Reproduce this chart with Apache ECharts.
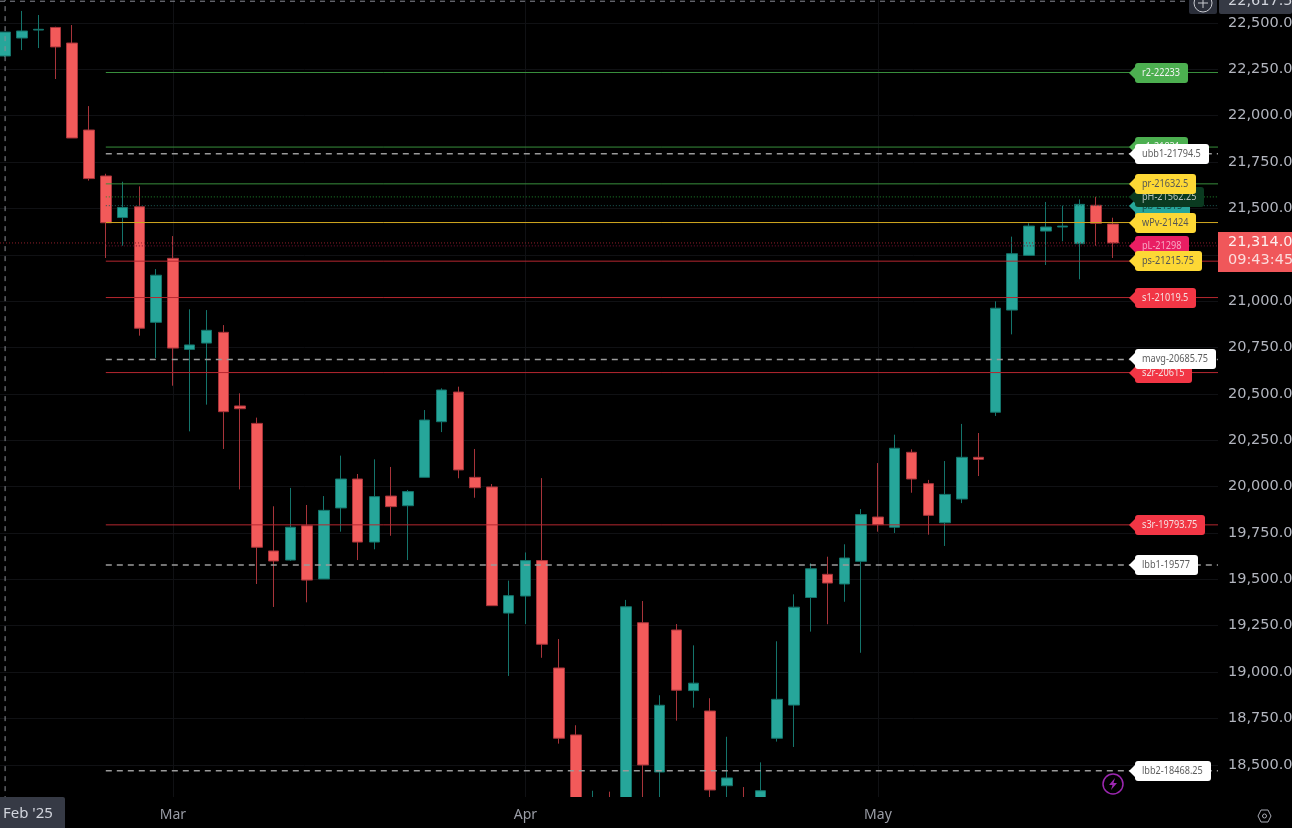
<!DOCTYPE html>
<html>
<head>
<meta charset="utf-8">
<title>Candles</title>
<script src="https://cdn.jsdelivr.net/npm/echarts@6/dist/echarts.min.js"></script>
<style>
    html, body { margin: 0; padding: 0; background: #000; overflow: hidden; }
    #chart { width: 1292px; height: 828px; }
</style>
</head>
<body>
<div id="chart"></div>
<script>
// daily candles, index 0 is the leftmost one. Below 18,326 is off the picture, those are guesses
var opens = [22322, 22419, 22462, 22476, 22392, 21923, 21675, 21451, 21509, 20886,
    21231, 20740, 20774, 20832, 20435, 20341, 19653, 19604, 19789, 19502,
    19885, 20041, 19701, 19949, 19897, 20050, 20350, 20510, 20050, 19998,
    19318, 19410, 19601, 19022, 18661, 18270, 18310, 18290, 19266, 18461,
    19227, 18900, 18790, 18387, 18320, 18300, 18643, 18822, 19402, 19527,
    19475, 19597, 19836, 19781, 20185, 20016, 19805, 19933, 20158, 20401,
    20952, 21247, 21378, 21400, 21310, 21517, 21416];
var closes = [22451, 22457, 22466, 22371, 21880, 21661, 21423, 21505, 20854, 21140,
    20747, 20764, 20843, 20404, 20420, 19673, 19599, 19781, 19496, 19872,
    20041, 19701, 19946, 19892, 19973, 20359, 20521, 20090, 19994, 19358,
    19412, 19601, 19150, 18643, 18270, 18300, 18280, 19352, 18499, 18821,
    18902, 18940, 18364, 18429, 18285, 18360, 18853, 19350, 19557, 19480,
    19615, 19849, 19795, 20207, 20041, 19845, 19958, 20158, 20147, 20962,
    21256, 21405, 21400, 21405, 21522, 21420, 21314];
var lows = [22317, 22354, 22365, 22198, 21880, 21650, 21233, 21299, 20814, 20694,
    20544, 20298, 20442, 20203, 19985, 19475, 19351, 19599, 19376, 19502,
    19757, 19604, 19662, 19735, 19604, 20050, 20294, 20045, 19940, 19358,
    18979, 19259, 19077, 18614, 18260, 18255, 18260, 18270, 18290, 18290,
    18738, 18808, 18310, 18300, 18265, 18280, 18625, 18596, 19218, 19258,
    19379, 19104, 19757, 19750, 19967, 19741, 19680, 19911, 20057, 20381,
    20821, 21244, 21195, 21323, 21118, 21299, 21233];
var highs = [22451, 22565, 22543, 22480, 22489, 22052, 21687, 21644, 21619, 21173,
    21351, 20956, 20952, 20871, 20503, 20372, 19894, 19993, 19901, 19949,
    20167, 20068, 20147, 20106, 19982, 20413, 20530, 20539, 20203, 20014,
    19493, 19645, 20046, 19178, 18713, 18360, 18355, 19389, 19383, 18875,
    19259, 19144, 18859, 18651, 18380, 18513, 19166, 19419, 19586, 19622,
    19689, 19879, 20127, 20280, 20201, 20036, 20138, 20338, 20289, 20999,
    21348, 21420, 21535, 21515, 21549, 21563, 21450];

var monthIndex = [10, 31, 52];
var monthNames = ['Mar', 'Apr', 'May'];

// level tags, drawn in this order so later ones cover earlier ones
var levelNames = ['r2-22233', 'r1-21831', 'ubb1-21794.5', 'pb-21515', 'pH-21562.25', 'pr-21632.5', 'wPv-21424',
    'pL-21298', 'ps-21215.75', 's1-21019.5', 's2r-20615', 'mavg-20685.75', 's3r-19793.75', 'lbb1-19577', 'lbb2-18468.25'];
var levelValues = [22233, 21831, 21794.5, 21515, 21562.25, 21632.5, 21424,
    21298, 21215.75, 21019.5, 20615, 20685.75, 19793.75, 19577, 18468.25];
var levelKinds = ['green', 'green', 'band', 'teal', 'high', 'green2', 'yellow',
    'pink', 'yellow2', 'red', 'red', 'band', 'red', 'band', 'band'];

var lastPrice = 21314;
var countdown = '09:43:45';
var crosshairPrice = 22617.5;
var crosshairLabel = '22,617.5';
var crosshairMonth = "Feb '25";

var FONT = '"Noto Sans", sans-serif';
var TAG_FONT = '10.5px "Noto Sans", sans-serif';
var TAG_SQUEEZE = 0.87; // tag text in the picture is a condensed face
var PRICE_FONT = '"DejaVu Sans", sans-serif';
var TEAL = '#26a69a', TEAL_DARK = '#14746b', RED = '#f25a5a', RED_DARK = '#a8343a';
var GRID = '#101114';

var kindStyles = {
    green: { line: '#388e3c', type: 'solid', tag: '#4caf50', text: '#f2f2f2' },
    green2: { line: '#388e3c', type: 'solid', tag: '#fdd835', text: '#555' },
    band: { line: '#9a9a9a', type: [6, 5], tag: '#ffffff', text: '#5d5d5d' },
    teal: { line: '#1c5f58', type: [1, 2], tag: '#26a69a', text: '#134a44' },
    high: { line: '#1f8a2c', type: [1, 2], tag: '#0a3a20', text: '#b8c2bc' },
    yellow: { line: '#d1a81f', type: 'solid', tag: '#fdd835', text: '#555' },
    yellow2: { line: '#b5272f', type: 'solid', tag: '#fdd835', text: '#555' },
    pink: { line: '#7a1033', type: [1, 2], tag: '#e91e63', text: '#f7a8c4' },
    red: { line: '#b5272f', type: 'solid', tag: '#f23645', text: '#f5e0e0' }
};

// x index range so that the candles land on a 16.79px step inside a 1218px plot
var xMin = -0.304, xMax = 72.26;
var levelStart = 6;
var tagAnchor = 66.95;

var candleData = opens.map(function (o, i) {
    return [i, o, closes[i], lows[i], highs[i]];
});

var measure = document.createElement('canvas').getContext('2d');
measure.font = TAG_FONT;

function renderTag(params, api) {
    var p = api.coord([api.value(0), api.value(1)]);
    var style = kindStyles[levelKinds[params.dataIndex]];
    var text = levelNames[params.dataIndex];
    var x = Math.round(p[0]), y = Math.round(p[1]);
    var w = Math.round(measure.measureText(text).width * TAG_SQUEEZE) + 15;
    return {
        type: 'group',
        children: [
            { type: 'polygon', shape: { points: [[x, y], [x + 7, y - 7], [x + 7, y + 7]] }, style: { fill: style.tag } },
            { type: 'rect', shape: { x: x + 6, y: y - 10, width: w, height: 20, r: 3 }, style: { fill: style.tag } },
            {
                type: 'text',
                x: x + 13,
                y: y,
                scaleX: TAG_SQUEEZE,
                style: { x: 0, y: 0, text: text, fill: style.text, font: TAG_FONT, verticalAlign: 'middle' }
            }
        ]
    };
}

function renderPrice(params, api) {
    var p = api.coord([api.value(0), api.value(1)]);
    var y = Math.round(p[1]);
    return {
        type: 'group',
        children: [
            { type: 'rect', shape: { x: 1218, y: y - 11, width: 74, height: 40 }, style: { fill: '#f0575a' } },
            { type: 'text', style: { x: 1228, y: y - 1, text: '21,314.0', fill: '#fdeeee', font: '14.5px ' + PRICE_FONT, verticalAlign: 'middle' } },
            { type: 'text', style: { x: 1228, y: y + 17, text: countdown, fill: '#fbdcdc', font: '14.5px ' + PRICE_FONT, verticalAlign: 'middle' } }
        ]
    };
}

var levelSeries = levelValues.map(function (v, i) {
    var style = kindStyles[levelKinds[i]];
    return {
        type: 'line',
        data: [[levelStart, v], [xMax, v]],
        symbol: 'none',
        silent: true,
        z: 3,
        lineStyle: { color: style.line, width: levelKinds[i] == 'band' ? 1.5 : 1, type: style.type }
    };
});

var myChart = echarts.init(document.getElementById('chart'));

var option = {
    animation: false,
    backgroundColor: '#000',
    // max and min are whole 250s, so the plot runs past the top and under the time strip
    grid: { left: 0, width: 1218, top: -23.36, height: 834.5, outerBoundsMode: 'none' },
    xAxis: [{
        type: 'value',
        position: 'bottom',
        min: xMin,
        max: xMax,
        axisLine: { show: false },
        axisTick: { show: false, customValues: monthIndex },
        axisLabel: { show: false },
        splitLine: { show: true, lineStyle: { color: GRID } }
    }, {
        type: 'value',
        position: 'bottom',
        min: xMin,
        max: xMax,
        z: 10,
        axisLine: { show: false },
        axisTick: { show: false },
        splitLine: { show: false },
        axisLabel: {
            customValues: monthIndex,
            margin: -3,
            color: '#9a9da6',
            fontSize: 14,
            fontFamily: FONT,
            formatter: function (v) { return monthNames[monthIndex.indexOf(v)]; }
        }
    }],
    yAxis: {
        type: 'value',
        position: 'right',
        min: 18250,
        max: 22750,
        interval: 250,
        axisLine: { show: false },
        axisTick: { show: false },
        splitLine: { showMinLine: false, showMaxLine: false, lineStyle: { color: GRID } },
        axisLabel: {
            showMinLabel: false,
            showMaxLabel: false,
            margin: 10,
            color: '#b2b5be',
            fontSize: 14.5,
            fontFamily: PRICE_FONT,
            padding: [0, 0, 6, 0],
            formatter: function (v) { return v.toLocaleString('en-US', { minimumFractionDigits: 1 }); }
        }
    },
    graphic: [
        // strip under the plot, hides what falls below the visible price range
        { type: 'rect', z: 5, shape: { x: 0, y: 797, width: 1292, height: 31 }, style: { fill: '#000' } },
        { type: 'rect', z: 30, shape: { x: 0, y: 797, width: 65, height: 31, r: [0, 2, 0, 0] }, style: { fill: '#363a45' } },
        { type: 'text', z: 31, style: { x: 3, y: 814, text: crosshairMonth, fill: '#d1d4dc', font: '15px ' + FONT, verticalAlign: 'middle' } },
        // top right crosshair price and plus button
        { type: 'rect', z: 30, shape: { x: 1189, y: -4, width: 28, height: 18, r: 2 }, style: { fill: '#2a2e39' } },
        { type: 'circle', z: 31, shape: { cx: 1203, cy: 3, r: 9 }, style: { fill: 'none', stroke: '#c8cad0', lineWidth: 1 } },
        { type: 'line', z: 31, shape: { x1: 1198, y1: 3, x2: 1208, y2: 3 }, style: { stroke: '#c8cad0', lineWidth: 1 } },
        { type: 'line', z: 31, shape: { x1: 1203, y1: -2, x2: 1203, y2: 8 }, style: { stroke: '#c8cad0', lineWidth: 1 } },
        { type: 'rect', z: 30, shape: { x: 1219, y: -4, width: 73, height: 18, r: 2 }, style: { fill: '#363a45' } },
        { type: 'text', z: 31, style: { x: 1228, y: 1, text: crosshairLabel, fill: '#d1d4dc', font: '14.5px ' + PRICE_FONT, verticalAlign: 'middle' } },
        // bolt and settings icons
        { type: 'circle', z: 31, shape: { cx: 1113, cy: 784, r: 10 }, style: { fill: 'none', stroke: '#9c27b0', lineWidth: 1.5 } },
        { type: 'polygon', z: 31, shape: { points: [[1115, 778], [1109, 785], [1112.5, 785], [1111, 790], [1117, 783], [1113.5, 783]] }, style: { fill: '#9c27b0' } },
        { type: 'polygon', z: 31, shape: { points: [[1258, 816], [1261, 810], [1268, 810], [1271, 816], [1268, 822], [1261, 822]] }, style: { fill: 'none', stroke: '#a8abb4', lineWidth: 1 } },
        { type: 'circle', z: 31, shape: { cx: 1264.5, cy: 816, r: 2 }, style: { fill: 'none', stroke: '#a8abb4', lineWidth: 1 } }
    ],
    series: [{
        type: 'candlestick',
        data: candleData,
        barWidth: 11,
        z: 2,
        silent: true,
        itemStyle: { color: TEAL, color0: RED, borderColor: TEAL_DARK, borderColor0: RED_DARK, borderWidth: 1 }
    }, {
        // crosshair
        type: 'line',
        data: [[xMin, crosshairPrice], [xMax, crosshairPrice]],
        symbol: 'none',
        silent: true,
        z: 3,
        lineStyle: { color: '#8a8d96', width: 1, type: [5, 5] }
    }, {
        type: 'line',
        data: [[0, 18250], [0, 22750]],
        symbol: 'none',
        silent: true,
        z: 3,
        lineStyle: { color: '#8a8d96', width: 1, type: [5, 5] }
    }, {
        // last price, right across the plot
        type: 'line',
        data: [[xMin, lastPrice], [xMax, lastPrice]],
        symbol: 'none',
        silent: true,
        z: 3,
        lineStyle: { color: '#8f1f2a', width: 1, type: [1, 2] }
    }].concat(levelSeries).concat([{
        type: 'custom',
        renderItem: renderTag,
        data: levelValues.map(function (v) { return [tagAnchor, v]; }),
        silent: true,
        z: 20
    }, {
        type: 'custom',
        renderItem: renderPrice,
        data: [[xMax, lastPrice]],
        silent: true,
        z: 21
    }])
};

myChart.setOption(option);
</script>
</body>
</html>
